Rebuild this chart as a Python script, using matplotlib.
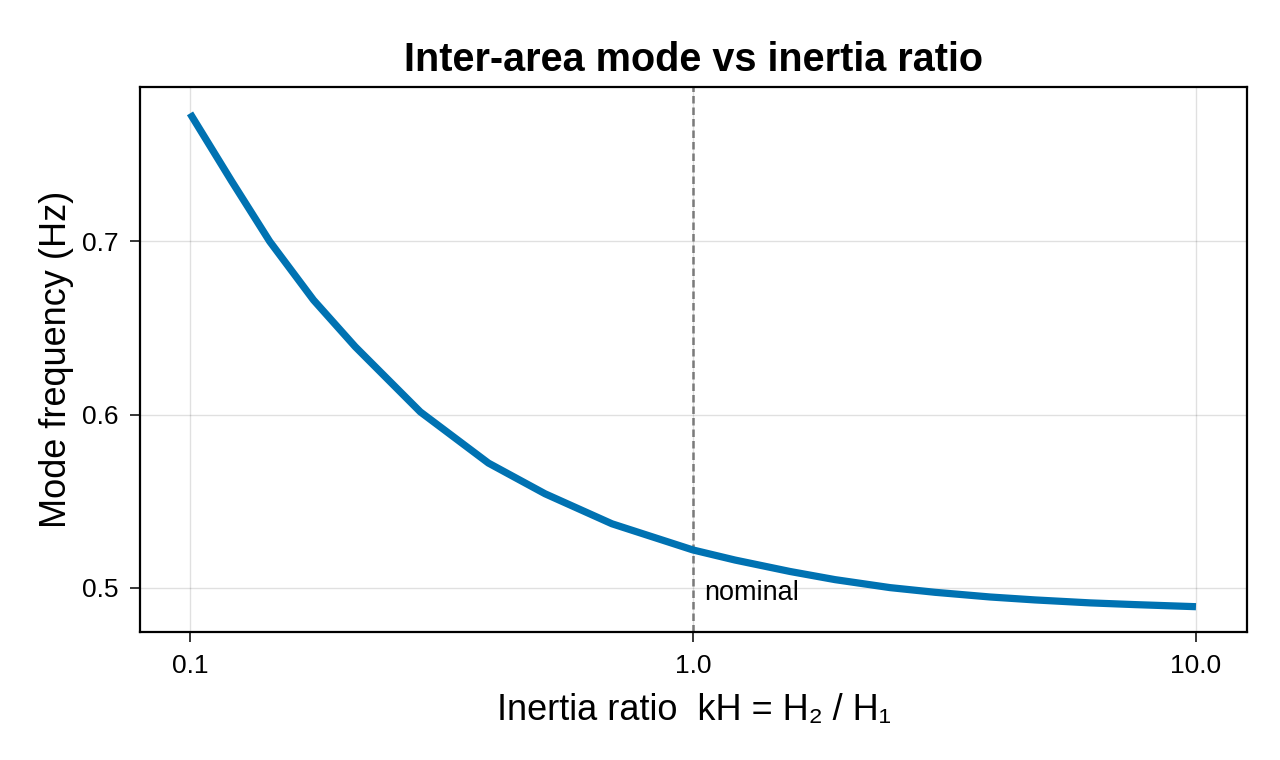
import numpy as np
import matplotlib
matplotlib.use('Agg')
import matplotlib.pyplot as plt
from matplotlib.ticker import FixedLocator, FixedFormatter, NullLocator

plt.rcParams['font.family'] = ['Liberation Sans', 'DejaVu Sans']

# Values
inertia_ratio = [0.100, 0.121, 0.144, 0.176, 0.213, 0.287, 0.392, 0.508, 0.690, 1.000,
                 1.212, 1.559, 1.916, 2.464, 3.028, 3.895, 4.786, 6.157, 7.562, 10.00]
mode_freq = [0.7736, 0.7345, 0.6998, 0.6660, 0.6391, 0.6015, 0.5720, 0.5543, 0.5370, 0.5219,
             0.5161, 0.5095, 0.5048, 0.5002, 0.4975, 0.4948, 0.4931, 0.4914, 0.4904, 0.4892]

nominal_ratio = 1.0
x_ticks = [0.1, 1.0, 10.0]
x_tick_labels = ['0.1', '1.0', '10.0']
y_ticks = [0.5, 0.6, 0.7]
y_tick_labels = ['0.5', '0.6', '0.7']

fig = plt.figure(figsize=(12.8, 7.6), dpi=100)
ax = fig.add_axes([0.1094, 0.1684, 0.8648, 0.7171])

ax.plot(inertia_ratio, mode_freq, color='#0072B2', lw=5.2, solid_capstyle='butt',
        solid_joinstyle='round', zorder=3)
ax.axvline(nominal_ratio, color='#7a7a7a', lw=1.8, ls=(0, (3, 1.6)), zorder=2)
ax.text(1.055, 0.4931, 'nominal', fontsize=19.5, ha='left', va='baseline')

ax.set_xscale('log')
ax.set_xlim(10 ** -1.0994, 10 ** 1.1014)
ax.set_ylim(0.4746, 0.7888)
ax.xaxis.set_major_locator(FixedLocator(x_ticks))
ax.xaxis.set_major_formatter(FixedFormatter(x_tick_labels))
ax.xaxis.set_minor_locator(NullLocator())
ax.yaxis.set_major_locator(FixedLocator(y_ticks))
ax.yaxis.set_major_formatter(FixedFormatter(y_tick_labels))

ax.grid(True, color='#000000', alpha=0.12, lw=1)
ax.set_axisbelow(True)
ax.tick_params(direction='out', length=7.5, width=1.1, labelsize=19, pad=8)
for s in ax.spines.values():
    s.set_linewidth(1.6)

ax.set_title('Inter-area mode vs inertia ratio', fontsize=28.5, fontweight='bold', pad=11.5)
ax.set_xlabel('Inertia ratio  kH = H₂ / H₁', fontsize=26, labelpad=11)
ax.set_ylabel('Mode frequency (Hz)', fontsize=26, labelpad=6)

fig.savefig('out.png', dpi=100)
